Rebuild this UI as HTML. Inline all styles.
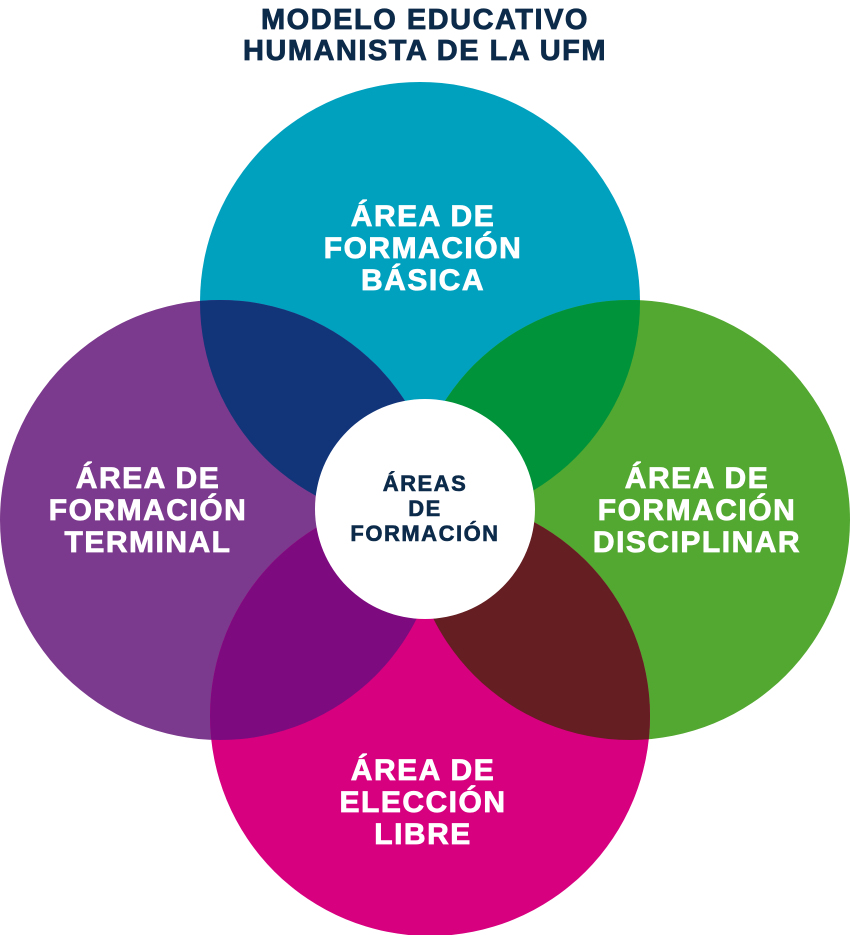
<!DOCTYPE html>
<html><head><meta charset="utf-8"><style>
html,body{margin:0;padding:0;background:#fff;}
svg{display:block}
text{font-family:"Liberation Sans",sans-serif;font-weight:bold;text-anchor:middle;}
</style></head><body>
<svg width="850" height="935" viewBox="0 0 850 935" xmlns="http://www.w3.org/2000/svg">
<defs>
<clipPath id="cT"><circle cx="420" cy="302" r="220"/></clipPath>
<clipPath id="cB"><circle cx="430" cy="716" r="220"/></clipPath>
</defs>
<g fill="#0c2a4a" stroke="#0c2a4a" stroke-width="0.8">
<text x="425" y="29" font-size="29" letter-spacing="1.5">MODELO EDUCATIVO</text>
<text x="425" y="60" font-size="29" letter-spacing="1.5">HUMANISTA DE LA UFM</text>
</g>
<circle cx="420" cy="302" r="220" fill="#00a1bf"/>
<circle cx="220" cy="520" r="220" fill="#7c3a8e"/>
<circle cx="630" cy="520" r="220" fill="#52a830"/>
<circle cx="430" cy="716" r="220" fill="#d7007f"/>
<g clip-path="url(#cT)">
<circle cx="220" cy="520" r="220" fill="#12357a"/>
<circle cx="630" cy="520" r="220" fill="#00933a"/>
</g>
<g clip-path="url(#cB)">
<circle cx="220" cy="520" r="220" fill="#7e0a80"/>
<circle cx="630" cy="520" r="220" fill="#651e21"/>
</g>
<circle cx="425" cy="509" r="110" fill="#fff"/>
<g fill="#fff" stroke="#fff" stroke-width="0.8" font-size="30" letter-spacing="1.5">
<text x="423" y="226">ÁREA DE</text>
<text x="423" y="258">FORMACIÓN</text>
<text x="423" y="290">BÁSICA</text>
<text x="148" y="488">ÁREA DE</text>
<text x="148" y="520">FORMACIÓN</text>
<text x="148" y="552">TERMINAL</text>
<text x="697" y="488">ÁREA DE</text>
<text x="697" y="520">FORMACIÓN</text>
<text x="697" y="552">DISCIPLINAR</text>
<text x="423" y="780">ÁREA DE</text>
<text x="423" y="812">ELECCIÓN</text>
<text x="423" y="844">LIBRE</text>
</g>
<g fill="#0c2a4a" stroke="#0c2a4a" stroke-width="0.6" font-size="22" letter-spacing="1.5">
<text x="425" y="491">ÁREAS</text>
<text x="425" y="516">DE</text>
<text x="425" y="541">FORMACIÓN</text>
</g>
</svg>
</body></html>
